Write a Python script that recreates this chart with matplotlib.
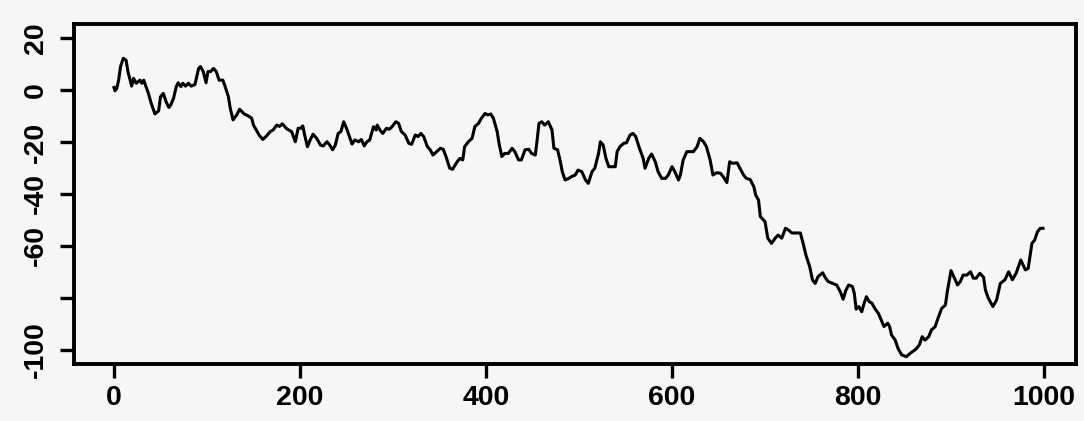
import matplotlib
matplotlib.use("Agg")
import matplotlib.pyplot as plt

# step index and random-walk value
steps = [0, 1, 3, 5, 7, 10, 13, 15, 19, 21, 24, 28, 30, 32, 37, 40, 44, 48, 50, 53, 56, 59, 61, 64, 67, 69, 72, 74, 77, 80, 83, 87, 91, 93, 96, 99,
         101, 104, 107, 110, 113, 117, 119, 123, 125, 128, 132, 135, 140, 144, 148, 150, 153, 156, 160, 164, 168, 171, 175, 178, 181, 186, 191, 195, 198,
         201, 203, 205, 208, 211, 214, 218, 222, 225, 229, 232, 235, 238, 241, 244, 247, 250, 252, 256, 259, 263, 266, 269, 272, 275, 279, 282, 283, 286, 289, 293, 296, 299,
         303, 306, 309, 313, 317, 320, 324, 327, 330, 333, 337, 340, 343, 347, 351, 354, 357, 361, 364, 369, 372, 375, 377, 381, 385, 388, 392, 395, 399, 402,
         405, 408, 412, 414, 417, 420, 424, 428, 431, 435, 438, 442, 446, 449, 453, 455, 457, 460, 463, 467, 471, 473, 477, 480, 482, 485, 489, 492, 496, 499,
         503, 507, 510, 514, 517, 521, 523, 526, 529, 532, 535, 539, 541, 544, 548, 551, 555, 558, 561, 565, 569, 571, 575, 578, 582, 585, 589, 593, 596, 600,
         603, 607, 609, 612, 616, 619, 623, 627, 630, 634, 637, 641, 644, 648, 652, 655, 659, 662, 665, 670, 673, 677, 680, 684, 688, 690, 693, 695, 700,
         703, 707, 711, 714, 718, 722, 725, 729, 734, 738, 741, 744, 748, 751, 754, 757, 762, 765, 768, 773, 777, 781, 784, 787, 790, 794, 796, 798, 801,
         804, 806, 809, 812, 815, 818, 822, 825, 828, 832, 834, 836, 840, 843, 847, 852, 856, 860, 863, 866, 869, 872, 876, 879, 883, 886, 890, 894, 896, 900,
         903, 907, 910, 913, 917, 921, 924, 927, 931, 935, 937, 940, 945, 949, 953, 958, 962, 966, 970, 975, 980, 983, 987, 990, 993, 996, 999]
values = [1.0, -0.3, 0.6, 3.8, 9.0, 12.2, 11.5, 7.1, 1.5, 4.5, 2.6, 3.8, 2.6, 3.8, -1.3, -5.1, -9.2, -8.0, -2.6, -1.3, -4.5, -6.7, -5.8, -3.2, 1.3, 2.8, 1.3, 2.6, 1.5, 2.6, 1.5, 2.1, 8.3, 9.0, 7.1, 2.8,
          7.1, 7.1, 8.3, 7.1, 3.8, 3.8, 1.9, -2.6, -7.0, -11.5, -9.6, -7.4, -9.2, -9.9, -10.8, -13.5, -15.4, -17.3, -19.0, -17.7, -16.0, -15.4, -13.5, -14.0, -13.0, -15.0, -16.0, -19.9, -14.7,
          -14.7, -13.8, -17.3, -21.8, -19.2, -17.0, -18.6, -21.2, -21.5, -19.9, -21.2, -23.0, -21.2, -16.7, -16.0, -12.2, -14.7, -16.7, -20.8, -19.2, -19.9, -19.0, -21.5, -19.9, -19.2, -14.1, -15.4, -13.5, -15.4, -16.7, -14.7, -15.1, -14.1,
          -12.2, -12.8, -16.0, -17.3, -20.5, -20.9, -17.3, -17.9, -16.7, -17.9, -21.8, -23.0, -25.0, -23.7, -22.4, -22.8, -25.6, -30.1, -30.5, -27.6, -26.3, -26.9, -21.8, -19.9, -18.6, -14.1, -12.8, -10.9, -9.0, -9.6,
          -9.2, -10.9, -16.0, -20.5, -25.6, -24.4, -24.4, -22.4, -23.7, -26.9, -26.9, -23.0, -22.8, -24.4, -25.0, -19.2, -12.8, -12.2, -13.5, -12.2, -15.4, -22.4, -23.0, -27.6, -31.4, -34.6, -34.0, -33.3, -32.7, -30.8,
          -31.4, -34.6, -35.9, -31.4, -30.1, -24.4, -19.9, -21.2, -26.3, -29.5, -29.5, -29.5, -23.7, -21.8, -20.5, -20.3, -17.3, -16.7, -17.9, -22.4, -26.3, -30.1, -26.3, -24.6, -27.6, -31.4, -34.0, -34.0, -32.7, -29.5,
          -31.4, -34.6, -32.7, -26.9, -23.7, -23.7, -23.7, -21.8, -18.6, -19.9, -21.8, -26.9, -32.7, -31.8, -32.0, -33.3, -35.6, -27.6, -28.2, -28.0, -30.1, -32.7, -34.0, -34.4, -37.2, -40.4, -42.3, -48.7, -50.6,
          -57.0, -59.0, -57.0, -55.8, -57.0, -53.2, -53.8, -55.0, -55.0, -55.0, -59.0, -63.5, -67.9, -73.0, -74.4, -71.8, -70.3, -72.3, -73.7, -74.4, -75.0, -77.6, -80.5, -77.0, -75.0, -75.6, -78.2, -84.3, -83.3,
          -85.3, -82.7, -79.5, -81.4, -82.0, -84.0, -86.0, -88.5, -91.0, -89.7, -91.0, -94.2, -96.2, -99.4, -101.9, -102.6, -101.3, -100.3, -99.4, -98.0, -94.9, -96.2, -94.9, -92.3, -91.0, -87.8, -84.0, -82.7, -77.6, -69.5,
          -71.8, -75.0, -73.7, -71.2, -71.2, -69.9, -72.4, -72.4, -70.5, -72.0, -76.9, -80.0, -83.3, -80.8, -74.4, -73.0, -69.9, -73.0, -70.5, -65.4, -69.2, -68.6, -59.0, -57.7, -54.5, -53.2, -53.2]

x_ticks = [0, 200, 400, 600, 800, 1000]
x_tick_labels = ["0", "200", "400", "600", "800", "1000"]
y_ticks = [20, 0, -20, -40, -60, -80, -100]
y_tick_labels = ["20", "0", "-20", "-40", "-60", "", "-100"]

bg = "#f6f6f6"
plt.rcParams["font.family"] = ["Liberation Sans", "DejaVu Sans"]

fig = plt.figure(figsize=(10.84, 4.21), dpi=100, facecolor=bg)
ax = fig.add_axes([74 / 1084, 1 - 364 / 421, (1076 - 74) / 1084, (364 - 24) / 421])
ax.set_facecolor(bg)

ax.plot(steps, values, color="black", linewidth=2.2, solid_joinstyle="round")

ax.set_xlim(-43, 1034.4)
ax.set_ylim(-105.4, 25.4)

ax.set_xticks(x_ticks)
ax.set_xticklabels(x_tick_labels, fontsize=20.5, fontweight="bold")
ax.set_yticks(y_ticks)
ax.set_yticklabels(y_tick_labels, fontsize=20.5, fontweight="bold", rotation=90, va="center")

ax.tick_params(axis="both", length=10, width=2.4, color="black")
ax.tick_params(axis="x", pad=5)
ax.tick_params(axis="y", pad=8)

for s in ax.spines.values():
    s.set_linewidth(2.8)
    s.set_color("black")

fig.savefig("out.png", dpi=100, facecolor=bg)
